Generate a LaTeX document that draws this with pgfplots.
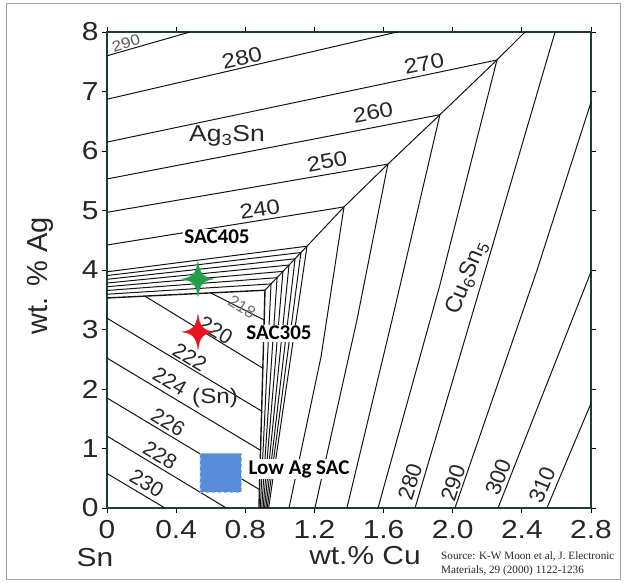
\documentclass[border=0pt]{standalone}
\usepackage{pgfplots}
\pgfplotsset{compat=1.18}
\usepackage{fontspec}
\usepackage{graphicx}
\setmainfont{Liberation Sans}
\newfontfamily\calfont{Carlito}
\newfontfamily\serfont{Liberation Serif}
\newcommand{\sx}[1]{\scalebox{1.15}[1]{#1}}
\definecolor{sacgreen}{RGB}{34,160,70}
\definecolor{sacred}{RGB}{232,20,30}
\definecolor{sqblue}{RGB}{88,140,214}
\definecolor{sqedge}{RGB}{150,185,230}
\definecolor{axteal}{RGB}{30,60,60}
\tikzset{
  iso/.style={black!92, line width=1.0pt},
  lab/.style={font=\fontsize{21}{22}\selectfont, text=black!85, inner sep=0pt},
  sac/.style={font=\calfont\bfseries\fontsize{21}{23}\selectfont, fill=white, inner sep=1.5pt, text=black},
}
\pgfdeclareplotmark{star4}{%
  \pgfpathmoveto{\pgfqpoint{0pt}{1.12\pgfplotmarksize}}%
  \pgfpathcurveto{\pgfqpoint{0.1\pgfplotmarksize}{0.35\pgfplotmarksize}}{\pgfqpoint{0.35\pgfplotmarksize}{0.1\pgfplotmarksize}}{\pgfqpoint{\pgfplotmarksize}{0pt}}%
  \pgfpathcurveto{\pgfqpoint{0.35\pgfplotmarksize}{-0.1\pgfplotmarksize}}{\pgfqpoint{0.1\pgfplotmarksize}{-0.35\pgfplotmarksize}}{\pgfqpoint{0pt}{-1.12\pgfplotmarksize}}%
  \pgfpathcurveto{\pgfqpoint{-0.1\pgfplotmarksize}{-0.35\pgfplotmarksize}}{\pgfqpoint{-0.35\pgfplotmarksize}{-0.1\pgfplotmarksize}}{\pgfqpoint{-\pgfplotmarksize}{0pt}}%
  \pgfpathcurveto{\pgfqpoint{-0.35\pgfplotmarksize}{0.1\pgfplotmarksize}}{\pgfqpoint{-0.1\pgfplotmarksize}{0.35\pgfplotmarksize}}{\pgfqpoint{0pt}{1.12\pgfplotmarksize}}%
  \pgfpathclose
  \pgfusepathqfillstroke
}
\begin{document}
\begin{tikzpicture}
\useasboundingbox (0,0) rectangle (626pt,582pt);
\draw[gray!75, line width=0.9pt] (6pt,3pt) rectangle (620pt,579pt);
\begin{axis}[
  at={(107pt,74pt)}, anchor=south west,
  scale only axis, width=484pt, height=476pt,
  xmin=0, xmax=2.8, ymin=0, ymax=8,
  xtick={0,0.4,0.8,1.2,1.6,2.0,2.4,2.8},
  xticklabels={\sx{0},\sx{0.4},\sx{0.8},\sx{1.2},\sx{1.6},\sx{2.0},\sx{2.4},\sx{2.8}},
  ytick={0,1,2,3,4,5,6,7,8},
  yticklabels={\sx{0},\sx{1},\sx{2},\sx{3},\sx{4},\sx{5},\sx{6},\sx{7},\sx{8}},
  tick align=outside,
  major tick length=5pt,
  tick style={black, line width=1pt},
  axis line style={line width=1.9pt, axteal},
  xticklabel style={font=\fontsize{26}{28}\selectfont, text=black!85, yshift=-4pt},
  yticklabel style={font=\fontsize{26}{28}\selectfont, text=black!85},
  clip=false,
]
% --- Ag3Sn primary field isotherms
\addplot[iso, no marks] coordinates {(0,7.60) (0.48,8)};
\addplot[iso, no marks] coordinates {(0,6.87) (1.678,8)};
\addplot[iso, no marks] coordinates {(0,6.15) (2.256,7.53)};
\addplot[iso, no marks] coordinates {(0,5.53) (1.926,6.61)};
\addplot[iso, no marks] coordinates {(0,4.97) (1.625,5.78)};
\addplot[iso, no marks] coordinates {(0,4.42) (1.371,5.06)};
% --- valley Ag3Sn / Cu6Sn5
\addplot[iso, no marks] coordinates {(2.418,8) (2.256,7.53) (1.926,6.61) (1.625,5.78) (1.371,5.06) (1.157,4.40) (0.914,3.66)};
% --- dense isotherms near the eutectic
\addplot[iso, no marks] coordinates {(0,3.970) (1.157,4.400) (0.935,0)};
\addplot[iso, no marks] coordinates {(0,3.907) (1.122,4.294) (0.927,0)};
\addplot[iso, no marks] coordinates {(0,3.844) (1.088,4.189) (0.919,0)};
\addplot[iso, no marks] coordinates {(0,3.781) (1.053,4.083) (0.911,0)};
\addplot[iso, no marks] coordinates {(0,3.719) (1.018,3.977) (0.903,0)};
\addplot[iso, no marks] coordinates {(0,3.656) (0.984,3.871) (0.895,0)};
\addplot[iso, no marks] coordinates {(0,3.593) (0.949,3.766) (0.887,0)};
\addplot[iso, no marks, line width=1.4pt] coordinates {(0,3.530) (0.914,3.660) (0.879,0)};
% --- Cu6Sn5 primary field isotherms
\addplot[iso, no marks] coordinates {(1.371,5.06) (1.238,2.54) (1.053,0)};
\addplot[iso, no marks] coordinates {(1.625,5.78) (1.446,3.16) (1.203,0)};
\addplot[iso, no marks] coordinates {(1.926,6.61) (1.649,3.16) (1.388,0)};
\addplot[iso, no marks] coordinates {(2.256,7.53) (1.926,3.75) (1.568,0)};
\addplot[iso, no marks] coordinates {(2.592,8) (2.204,4.15) (1.782,0)};
\addplot[iso, no marks] coordinates {(2.8,6.82) (2.488,4.0) (2.013,0)};
\addplot[iso, no marks] coordinates {(2.8,3.97) (2.262,0)};
\addplot[iso, no marks] coordinates {(2.8,1.76) (2.545,0)};
% --- (Sn) primary field isotherms
\addplot[iso, no marks] coordinates {(0.60,3.615) (0.909,3.16)};
\addplot[iso, no marks] coordinates {(0.22,3.56) (0.901,2.35)};
\addplot[iso, no marks] coordinates {(0,3.19) (0.894,1.63)};
\addplot[iso, no marks] coordinates {(0,2.52) (0.888,0.97)};
\addplot[iso, no marks] coordinates {(0,1.85) (0.882,0.31)};
\addplot[iso, no marks] coordinates {(0,1.21) (0.69,0)};
\addplot[iso, no marks] coordinates {(0,0.58) (0.335,0)};
% --- low Ag SAC region
\addplot[fill=sqblue, draw=sqedge, dashed, line width=0.8pt, no marks] coordinates {(0.538,0.27) (0.776,0.27) (0.776,0.92) (0.538,0.92) (0.538,0.27)};
% --- alloys
\addplot[only marks, mark=star4, mark size=15.5pt, fill=sacgreen, draw=sacgreen] coordinates {(0.526,3.85)};
\addplot[only marks, mark=star4, mark size=15.5pt, fill=sacred, draw=sacred] coordinates {(0.526,2.96)};
% --- labels
\node[lab, font=\fontsize{15}{16}\selectfont, text=black!65, rotate=17] at (axis cs:0.110,7.815) {\sx{290}};
\node[lab, rotate=13] at (axis cs:0.781,7.57) {\sx{280}};
\node[lab, rotate=12] at (axis cs:1.834,7.47) {\sx{270}};
\node[lab, rotate=11] at (axis cs:1.539,6.65) {\sx{260}};
\node[lab, rotate=11] at (axis cs:1.273,5.825) {\sx{250}};
\node[lab, rotate=9] at (axis cs:0.885,5.02) {\sx{240}};
\node[lab, font=\fontsize{23}{24}\selectfont] at (axis cs:0.694,6.25) {\sx{Ag\textsubscript{3}Sn}};
\node[lab, font=\fontsize{23}{24}\selectfont, rotate=68] at (axis cs:2.083,3.87) {Cu\textsubscript{6}Sn\textsubscript{5}};
\node[lab, font=\fontsize{17}{18}\selectfont, text=black!55, rotate=-31] at (axis cs:0.781,3.38) {218};
\node[lab, rotate=-31] at (axis cs:0.630,2.99) {220};
\node[lab, rotate=-31] at (axis cs:0.480,2.54) {222};
\node[lab, rotate=-31] at (axis cs:0.364,2.13) {224};
\node[lab] at (axis cs:0.625,1.85) {\sx{(Sn)}};
\node[lab, rotate=-31] at (axis cs:0.353,1.445) {226};
\node[lab, rotate=-31] at (axis cs:0.307,0.89) {228};
\node[lab, rotate=-31] at (axis cs:0.231,0.42) {230};
\node[lab, font=\fontsize{22}{23}\selectfont, rotate=73] at (axis cs:1.753,0.44) {280};
\node[lab, font=\fontsize{22}{23}\selectfont, rotate=72] at (axis cs:2.002,0.42) {290};
\node[lab, font=\fontsize{22}{23}\selectfont, rotate=69] at (axis cs:2.262,0.52) {300};
\node[lab, font=\fontsize{22}{23}\selectfont, rotate=67] at (axis cs:2.517,0.39) {310};
\node[sac] at (axis cs:0.636,4.555) {SAC405};
\node[sac] at (axis cs:0.995,2.94) {SAC305};
\node[sac] at (axis cs:1.111,0.655) {Low Ag SAC};
\end{axis}
\node[rotate=90, font=\fontsize{29}{31}\selectfont, text=black!85] at (40pt,306pt) {wt. \% Ag};
\node[font=\fontsize{26}{28}\selectfont, text=black!85] at (95pt,24pt) {\sx{Sn}};
\node[font=\fontsize{26}{28}\selectfont, text=black!85] at (365pt,26pt) {\sx{wt.\% Cu}};
\node[anchor=north west, align=left, inner sep=0pt, font=\serfont\fontsize{11.2}{13.5}\selectfont, text=black!85] at (441pt,30pt) {Source: K-W Moon et al, J. Electronic\\Materials, 29 (2000) 1122-1236};
\end{tikzpicture}
\end{document}
